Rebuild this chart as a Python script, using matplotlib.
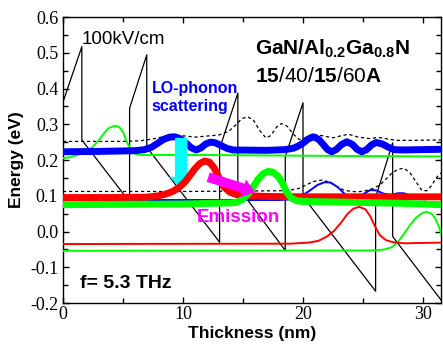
import matplotlib
matplotlib.use("Agg")
import matplotlib.pyplot as plt
from matplotlib.ticker import MultipleLocator

plt.rcParams['font.family'] = ['Liberation Sans', 'DejaVu Sans']
plt.rcParams['mathtext.fontset'] = 'custom'
plt.rcParams['mathtext.rm'] = 'Liberation Sans'
plt.rcParams['mathtext.bf'] = 'Liberation Sans:bold'

# conduction band profile (nm, eV)
band_x = [0, 1.57, 1.57, 5.55, 5.55, 6.98, 6.98, 13.05, 13.05, 14.57, 14.57,
          18.52, 18.52, 20.0, 20.0, 26.05, 26.05, 27.47, 27.47, 31.6]
band_y = [0.362, 0.517, 0.256, 0.083, 0.345, 0.494, 0.236, -0.030, 0.232, 0.387, 0.125,
          -0.053, 0.209, 0.360, 0.098, -0.167, 0.095, 0.248, -0.014, -0.196]

# upper laser state (thick blue)
blue_x = [0, 3, 6.0, 6.8, 7.4, 7.9, 8.4, 8.9, 9.3, 9.8, 10.3, 10.7, 11.1, 11.5, 11.9,
          12.3, 12.7, 13.2, 13.7, 14.2, 17, 18.5, 19.2, 19.6, 20.0, 20.4, 20.85, 21.3,
          21.7, 22.05, 22.4, 22.8, 23.2, 23.65, 24.1, 24.5, 24.9, 25.3, 25.7, 26.1,
          26.6, 27.1, 27.6, 28.2, 31.6]
blue_y = [0.223, 0.224, 0.226, 0.229, 0.236, 0.247, 0.258, 0.264, 0.265, 0.259, 0.246,
          0.234, 0.228, 0.234, 0.245, 0.250, 0.248, 0.240, 0.232, 0.228, 0.227, 0.229,
          0.233, 0.239, 0.247, 0.258, 0.265, 0.258, 0.243, 0.229, 0.223, 0.230, 0.243,
          0.251, 0.244, 0.230, 0.223, 0.229, 0.242, 0.249, 0.245, 0.236, 0.229, 0.228,
          0.230]

# lower laser state (thick red)
red_x = [0, 4, 7, 8.0, 8.6, 9.2, 9.7, 10.2, 10.6, 11.0, 11.4, 11.8, 12.2, 12.6, 13.0,
         13.4, 13.9, 14.5, 15.5, 17, 20, 25, 31.6]
red_y = [0.095, 0.095, 0.096, 0.100, 0.105, 0.113, 0.124, 0.140, 0.158, 0.176, 0.190,
         0.197, 0.194, 0.178, 0.150, 0.125, 0.110, 0.103, 0.100, 0.098, 0.097, 0.097,
         0.097]

# injector state (thick green)
green_x = [0, 10, 14, 14.5, 15.0, 15.5, 15.9, 16.3, 16.7, 17.1, 17.5, 17.9, 18.3, 18.6,
           19.0, 19.5, 20, 22, 25, 28, 31.6]
green_y = [0.075, 0.077, 0.080, 0.082, 0.090, 0.108, 0.128, 0.148, 0.162, 0.168, 0.166,
           0.155, 0.135, 0.112, 0.094, 0.086, 0.084, 0.083, 0.081, 0.079, 0.075]

# other states (thin lines)
green2_x = [0, 0.6, 1.2, 1.8, 2.5, 3.0, 3.4, 3.8, 4.3, 4.7, 5.0, 5.3, 5.7, 6.1, 6.6,
            8, 12, 16, 20, 25, 31.6]
green2_y = [0.205, 0.208, 0.214, 0.222, 0.237, 0.256, 0.274, 0.289, 0.296, 0.292, 0.278,
            0.252, 0.225, 0.216, 0.214, 0.214, 0.214, 0.213, 0.212, 0.211, 0.210]

blue2_x = [0, 10, 18, 19, 19.8, 20.5, 21.2, 21.8, 22.3, 22.9, 23.5, 24.1, 24.6, 25.1,
           25.6, 26.1, 26.7, 27.3, 27.9, 28.4, 29.0, 29.6, 30.2, 30.8, 31.6]
blue2_y = [0.088, 0.088, 0.088, 0.090, 0.098, 0.113, 0.130, 0.138, 0.137, 0.124, 0.104,
           0.090, 0.092, 0.106, 0.116, 0.115, 0.106, 0.102, 0.107, 0.107, 0.099, 0.091,
           0.090, 0.095, 0.098]

red2_x = [0, 19, 20.5, 21.3, 22.0, 22.6, 23.2, 23.7, 24.2, 24.7, 25.2, 25.6, 26.0,
          26.4, 26.9, 27.5, 28.5, 31.6]
red2_y = [-0.035, -0.034, -0.031, -0.026, -0.014, 0.002, 0.026, 0.049, 0.064, 0.069,
          0.062, 0.043, 0.014, -0.010, -0.024, -0.030, -0.033, -0.031]

green3_x = [0, 26, 26.8, 27.4, 27.9, 28.4, 28.9, 29.4, 29.9, 30.3, 30.7, 31.0, 31.3, 31.6]
green3_y = [-0.054, -0.053, -0.050, -0.044, -0.030, -0.007, 0.017, 0.038, 0.051, 0.055,
            0.050, 0.038, 0.015, -0.015]

dash_hi_x = [0, 5, 6.5, 7.5, 8.5, 9.3, 10.2, 11, 12, 13, 13.8, 14.4, 14.9, 15.4, 15.9,
             16.4, 16.9, 17.3, 17.8, 18.2, 18.7, 19.2, 19.7, 20.2, 20.8, 21.6, 22.5,
             23.2, 23.8, 24.6, 25.5, 26.3, 27.0, 27.8, 29, 31.6]
dash_hi_y = [0.252, 0.252, 0.254, 0.259, 0.266, 0.270, 0.267, 0.264, 0.267, 0.270, 0.280,
             0.298, 0.316, 0.321, 0.310, 0.282, 0.262, 0.268, 0.292, 0.302, 0.294, 0.272,
             0.257, 0.262, 0.272, 0.268, 0.262, 0.268, 0.272, 0.264, 0.260, 0.263, 0.259,
             0.255, 0.255, 0.256]

dash_lo_x = [0, 10, 15, 18, 19, 19.7, 20.3, 20.9, 21.6, 22.2, 22.8, 23.4, 24.0, 24.6,
             25.2, 25.8, 26.4, 26.9, 27.4, 27.9, 28.4, 28.9, 29.4, 29.9, 30.3, 30.7,
             31.1, 31.6]
dash_lo_y = [0.112, 0.112, 0.113, 0.114, 0.116, 0.121, 0.131, 0.140, 0.144, 0.138, 0.126,
             0.116, 0.112, 0.111, 0.114, 0.120, 0.130, 0.146, 0.163, 0.174, 0.177, 0.165,
             0.140, 0.115, 0.114, 0.128, 0.150, 0.167]

# transitions (tail, tip)
phonon_arrow = [(9.85, 0.262), (9.85, 0.118)]
emission_arrow = [(12.1, 0.152), (16.0, 0.110)]

fig = plt.figure(figsize=(4.43, 3.47), dpi=100)
ax = fig.add_axes([0.1422, 0.1268, 0.8544, 0.8242])

ax.plot(band_x, band_y, color='black', lw=0.9, zorder=2)
ax.plot(dash_hi_x, dash_hi_y, color='black', lw=0.9, ls=(0, (2.6, 2.2)), zorder=2)
ax.plot(dash_lo_x, dash_lo_y, color='black', lw=0.9, ls=(0, (2.6, 2.2)), zorder=2)
ax.plot(green2_x, green2_y, color='#00ff00', lw=1.4, zorder=3)
ax.plot(green3_x, green3_y, color='#00ff00', lw=1.4, zorder=3)
ax.plot(red2_x, red2_y, color='#ff0000', lw=1.4, zorder=3)
ax.plot(blue2_x, blue2_y, color='#0000ff', lw=1.4, zorder=3)
ax.plot(blue_x, blue_y, color='#0000ff', lw=5, zorder=4, solid_joinstyle='round')
ax.annotate('', xy=phonon_arrow[1], xytext=phonon_arrow[0], zorder=5,
            arrowprops=dict(arrowstyle='simple,head_length=0.9,head_width=1.7,tail_width=0.9',
                            mutation_scale=10, color='#00ffff', shrinkA=0, shrinkB=0, lw=0))
ax.plot(red_x, red_y, color='#ff0000', lw=5, zorder=6, solid_joinstyle='round')
ax.plot(green_x, green_y, color='#00ff00', lw=5, zorder=7, solid_joinstyle='round')
ax.annotate('', xy=emission_arrow[1], xytext=emission_arrow[0], zorder=8,
            arrowprops=dict(arrowstyle='simple,head_length=0.9,head_width=1.35,tail_width=0.7',
                            mutation_scale=10, color='#ff00ff', shrinkA=0, shrinkB=0, lw=0))

ax.text(1.56, 0.538, '100kV/cm', fontsize=13.5, va='center', ha='left')
ax.text(16.0, 0.494, r'$\mathbf{GaN/Al_{0.2}Ga_{0.8}N}$', fontsize=15, va='baseline')
ax.text(16.0, 0.419, r'$\mathbf{15}\mathrm{/40/}\mathbf{15}\mathrm{/60}\mathbf{A}$',
        fontsize=15, va='baseline')
ax.text(7.39, 0.387, 'LO-phonon', color='#0000ff', fontsize=11.5, fontweight='bold',
        va='baseline')
ax.text(7.39, 0.338, 'scattering', color='#0000ff', fontsize=11.5, fontweight='bold',
        va='baseline')
ax.text(11.14, 0.0274, 'Emission', color='#ff00ff', fontsize=13.5, fontweight='bold',
        va='baseline', zorder=9)
ax.text(1.39, -0.157, 'f= 5.3 THz', fontsize=14, fontweight='bold', va='baseline')

ax.set_xlim(0, 31.54)
ax.set_ylim(-0.2, 0.6)
ax.xaxis.set_major_locator(MultipleLocator(10))
ax.xaxis.set_minor_locator(MultipleLocator(5))
ax.yaxis.set_major_locator(MultipleLocator(0.1))
ax.yaxis.set_minor_locator(MultipleLocator(0.05))
ax.tick_params(which='both', direction='in', top=True, right=True, width=1)
ax.tick_params(which='major', length=4.5)
ax.tick_params(which='minor', length=3.5)
ax.tick_params(axis='y', pad=3.5)
ax.tick_params(axis='x', pad=2.5)
ax.set_yticks([-0.2, -0.1, 0.0, 0.1, 0.2, 0.3, 0.4, 0.5, 0.6])
ax.set_yticklabels(['-0.2', '-0.1', '0.0', '0.1', '0.2', '0.3', '0.4', '0.5', '0.6'])
for lab in ax.get_xticklabels() + ax.get_yticklabels():
    lab.set_family('Liberation Serif')
    lab.set_fontsize(13)
for s in ax.spines.values():
    s.set_linewidth(1)

ax.set_xlabel('Thickness (nm)', fontsize=12.5, fontweight='bold', labelpad=2)
ax.set_ylabel('Energy (eV)', fontsize=12.5, fontweight='bold', labelpad=4)

fig.savefig('out.png', dpi=100)
